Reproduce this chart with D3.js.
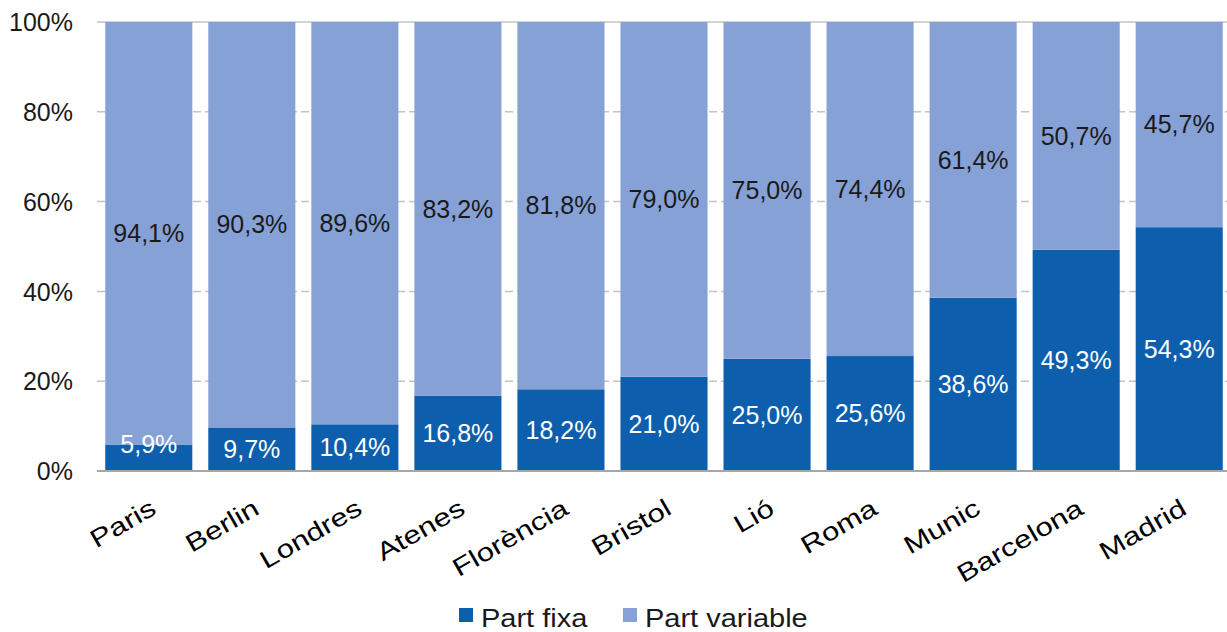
<!DOCTYPE html>
<html lang="ca">
<head>
    <meta charset="UTF-8">
    <title>Part fixa i part variable</title>
    <script src="https://d3js.org/d3.v7.min.js"></script>
    <style>
        body { margin: 0; background: #fff; }
        text { font-family: "Liberation Sans", Arial, sans-serif; }
        .tick-label { font-size: 25px; fill: #1a1a1a; }
        .value-label { font-size: 25px; }
        .city-label { font-size: 25px; fill: #000; }
        .legend text { font-size: 25px; fill: #1a1a1a; }
    </style>
</head>
<body>
<div id="chart"></div>
<script>
    // Dades
    const cities = ["Paris", "Berlin", "Londres", "Atenes", "Florència", "Bristol", "Lió", "Roma", "Munic", "Barcelona", "Madrid"];
    const fixa = [5.9, 9.7, 10.4, 16.8, 18.2, 21.0, 25.0, 25.6, 38.6, 49.3, 54.3];
    const variable = [94.1, 90.3, 89.6, 83.2, 81.8, 79.0, 75.0, 74.4, 61.4, 50.7, 45.7];
    const yTicks = [0, 20, 40, 60, 80, 100];
    const seriesNames = ["Part fixa", "Part variable"];
    const colors = ["#0d5ead", "#86a1d6"];
    const labelColors = ["#ffffff", "#1a1a1a"];

    const W = 1227, H = 632;
    const svg = d3.select("#chart").append("svg")
        .attr("width", W).attr("height", H);

    const x = d3.scaleBand()
        .domain(cities)
        .range([97, 1231])
        .paddingInner(0.155)
        .paddingOuter(0.08);

    const y = d3.scaleLinear()
        .domain([0, 100])
        .range([471, 22]);

    const fmt = v => v.toFixed(1).replace(".", ",") + "%";

    // Línies de graella
    svg.append("g")
        .selectAll("line")
        .data(yTicks.filter(d => d > 0))
        .join("line")
        .attr("x1", 97).attr("x2", W)
        .attr("y1", d => y(d)).attr("y2", d => y(d))
        .attr("stroke", "#c4c4c4")
        .attr("stroke-width", 1.5)
        .attr("stroke-dasharray", d => d === 100 ? null : "8,4");

    // Eix Y
    const yAxis = d3.axisLeft(y)
        .tickValues(yTicks)
        .tickSize(0)
        .tickPadding(0)
        .tickFormat(d => d + "%");

    const gy = svg.append("g")
        .attr("transform", "translate(73,0)")
        .call(yAxis);
    gy.select(".domain").remove();
    gy.selectAll("text")
        .attr("class", "tick-label")
        .attr("dy", "0.35em")
        .attr("font-family", null)
        .attr("font-size", null);

    // Dades apilades
    const rows = cities.map((c, i) => ({ city: c, fixa: fixa[i], variable: variable[i] }));
    const stack = d3.stack().keys(["fixa", "variable"]);
    const series = stack(rows);

    const layers = svg.append("g")
        .selectAll("g")
        .data(series)
        .join("g")
        .attr("fill", (d, i) => colors[i]);

    layers.selectAll("rect")
        .data(d => d)
        .join("rect")
        .attr("x", d => x(d.data.city))
        .attr("width", x.bandwidth())
        .attr("y", d => y(d[1]))
        .attr("height", d => y(d[0]) - y(d[1]));

    // Etiquetes de valor
    series.forEach((s, i) => {
        svg.append("g")
            .selectAll("text")
            .data(s)
            .join("text")
            .attr("class", "value-label")
            .attr("fill", labelColors[i])
            .attr("text-anchor", "middle")
            .attr("dy", "0.35em")
            .attr("x", d => x(d.data.city) + x.bandwidth() / 2)
            .attr("y", d => {
                const h = y(d[0]) - y(d[1]);
                // segment massa petit: etiqueta a la vora superior
                return h < 30 ? y(d[1]) : (y(d[0]) + y(d[1])) / 2;
            })
            .text(d => fmt(d[1] - d[0]));
    });

    // Eix X
    svg.append("line")
        .attr("x1", 97).attr("x2", W)
        .attr("y1", y(0)).attr("y2", y(0))
        .attr("stroke", "#a6a6a6")
        .attr("stroke-width", 2);

    svg.append("g")
        .selectAll("text")
        .data(cities)
        .join("text")
        .attr("class", "city-label")
        .attr("text-anchor", "end")
        .attr("transform", d => `translate(${x(d) + x.bandwidth() / 2 + 9},513) rotate(-30) scale(1.25,1)`)
        .text(d => d);

    // Llegenda
    const legend = svg.append("g").attr("class", "legend");
    const legendX = [459, 623];
    seriesNames.forEach((name, i) => {
        legend.append("rect")
            .attr("x", legendX[i]).attr("y", 608)
            .attr("width", 14).attr("height", 14)
            .attr("fill", colors[i]);
        legend.append("text")
            .attr("transform", `translate(${legendX[i] + 22},627) scale(1.16,1)`)
            .text(name);
    });
</script>
</body>
</html>
